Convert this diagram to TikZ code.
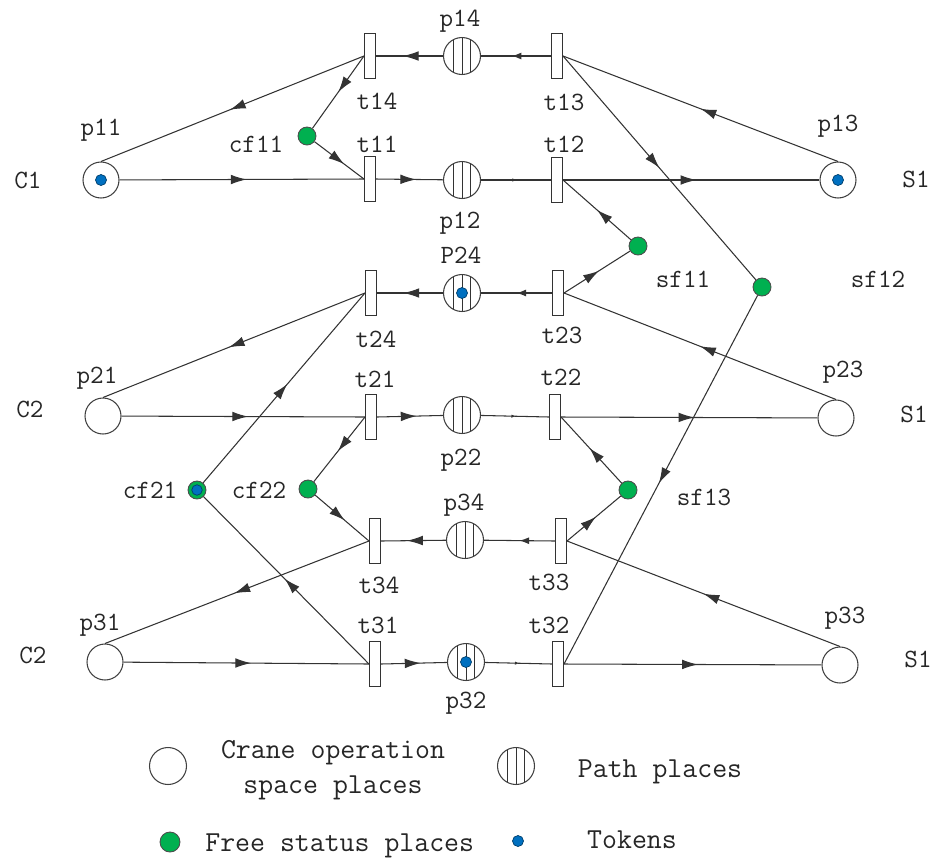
\documentclass[tikz,border=0pt]{standalone}
\usepackage{fontspec}
\usepackage{tikz}
\usetikzlibrary{arrows.meta,decorations.markings}
\definecolor{freegreen}{HTML}{00B050}
\definecolor{tokenblue}{HTML}{0070C0}

\tikzset{
  place/.style={circle, draw=black!75, line width=0.6pt, fill=white, minimum size=0.72cm, inner sep=0pt},
  pathplace/.style={place, minimum size=0.74cm,
    path picture={\foreach \dx in {-0.17,0,0.17}
      \draw[black!80, line width=0.55pt] ([xshift=\dx cm]path picture bounding box.north) -- ([xshift=\dx cm]path picture bounding box.south);}},
  trans/.style={rectangle, draw=black!80, line width=0.6pt, fill=white, minimum width=0.22cm, minimum height=0.9cm, inner sep=0pt},
  free/.style={circle, draw=black!70, line width=0.5pt, fill=freegreen, minimum size=0.36cm, inner sep=0pt},
  token/.style={circle, draw=tokenblue!55!black, line width=0.4pt, fill=tokenblue, minimum size=0.22cm, inner sep=0pt},
  lbl/.style={font=\fontsize{15pt}{18pt}\selectfont\ttfamily, text=black!85, inner sep=0pt, anchor=base},
  leg/.style={font=\fontsize{16.5pt}{20pt}\selectfont\ttfamily, text=black!85, inner sep=0pt, anchor=base},
  flow/.style={draw=black!80, line width=0.6pt},
  marrow/.style={postaction={decorate, decoration={markings, mark=at position #1 with {\arrow{Latex[length=9pt,width=5.5pt]}}}}},
  marrow/.default=0.52,
  sarrow/.style={postaction={decorate, decoration={markings, mark=at position #1 with {\arrow{Latex[length=5.5pt,width=4pt]}}}}},
  sarrow/.default=0.5,
  tarrow/.style={postaction={decorate, decoration={markings, mark=at position #1 with {\arrow{Latex[length=2pt,width=2pt]}}}}},
  tarrow/.default=0.5,
}

\begin{document}
\begin{tikzpicture}[x=0.02cm, y=-0.02cm]
    \useasboundingbox (0,0) rectangle (937,860);

    % Lugares do guindaste
    \node[place] (p11) at (101,180) {};
    \node[place] (p13) at (838,180) {};
    \node[place] (p21) at (103,416) {};
    \node[place] (p23) at (836,418) {};
    \node[place] (p31) at (105,662) {};
    \node[place] (p33) at (840,665) {};

    % Lugares de caminho
    \node[pathplace] (p14) at (462,56) {};
    \node[pathplace] (p12) at (462,180) {};
    \node[pathplace] (p24) at (462,293) {};
    \node[pathplace] (p22) at (462,415) {};
    \node[pathplace] (p34) at (465,540) {};
    \node[pathplace] (p32) at (466,662) {};

    % Transicoes
    \node[trans] (t14) at (370,56) {};
    \node[trans] (t11) at (370,179) {};
    \node[trans] (t13) at (557,56) {};
    \node[trans] (t12) at (557,180) {};
    \node[trans] (t24) at (371,293) {};
    \node[trans] (t23) at (558,293) {};
    \node[trans] (t21) at (371,417) {};
    \node[trans] (t22) at (555,417) {};
    \node[trans] (t34) at (375,541) {};
    \node[trans] (t33) at (561,541) {};
    \node[trans] (t31) at (375,664) {};
    \node[trans] (t32) at (558,664) {};

    % Lugares de estado livre
    \node[free] (cf11) at (307,136) {};
    \node[free] (sf11) at (638,246) {};
    \node[free] (sf12) at (762,287) {};
    \node[free] (cf21) at (197,490) {};
    \node[free] (cf22) at (308,489) {};
    \node[free] (sf13) at (628,490) {};

    % Fichas
    \node[token] (k11) at (p11) {};
    \node[token] (k13) at (p13) {};
    \node[token] (k24) at (p24) {};
    \node[token] (k32) at (p32) {};
    \node[token, minimum size=0.21cm] (kf21) at (cf21) {};

    % Arcos do primeiro guindaste
    \draw[flow, marrow] (p11) -- (t11.west);
    \draw[flow, marrow=0.6] (t11.east) -- (p12);
    \draw[flow, tarrow] (p12) -- (t12.west);
    \draw[flow, marrow] (t12.east) -- (p13);
    \draw[flow, marrow=0.5] (p13.north) -- (t13.east);
    \draw[flow, sarrow=0.56] (t13.west) -- (p14);
    \draw[flow, marrow=0.6] (p14) -- (t14.east);
    \draw[flow, marrow=0.51] (t14.west) -- (p11.north);
    \draw[flow, marrow=0.5] (t14.west) -- (cf11);
    \draw[flow, marrow=0.6] (cf11) -- (t11.west);
    \draw[flow, marrow=0.5] (sf11) -- (t12.east);
    \draw[flow, marrow=0.53] (t23.east) -- (sf11);
    \draw[flow, marrow=0.5] (t13.east) -- (sf12);
    \draw[flow, marrow=0.51] (sf12) -- (t32.east);

    % Arcos do segundo guindaste
    \draw[flow, marrow] (p21) -- (t21.west);
    \draw[flow, marrow=0.6] (t21.east) -- (p22);
    \draw[flow, tarrow] (p22) -- (t22.west);
    \draw[flow, marrow] (t22.east) -- (p23);
    \draw[flow, marrow=0.5] (p23.north) -- (t23.east);
    \draw[flow, sarrow] (t23.west) -- (p24);
    \draw[flow, marrow=0.6] (p24) -- (t24.east);
    \draw[flow, marrow=0.52] (t24.west) -- (p21.north);
    \draw[flow, marrow=0.53] (t21.west) -- (cf22);
    \draw[flow, marrow=0.55] (cf22) -- (t34.west);
    \draw[flow, marrow=0.53] (sf13) -- (t22.east);
    \draw[flow, marrow=0.54] (t33.east) -- (sf13);
    \draw[flow, marrow=0.52] (cf21) -- (t24.west);
    \draw[flow, marrow=0.51] (t31.west) -- (cf21);

    % Arcos do terceiro guindaste
    \draw[flow, marrow] (p31) -- (t31.west);
    \draw[flow, marrow=0.6] (t31.east) -- (p32);
    \draw[flow, tarrow] (p32) -- (t32.west);
    \draw[flow, marrow] (t32.east) -- (p33);
    \draw[flow, marrow=0.5] (p33.north) -- (t33.east);
    \draw[flow, sarrow] (t33.west) -- (p34);
    \draw[flow, marrow=0.6] (p34) -- (t34.east);
    \draw[flow, marrow=0.51] (t34.west) -- (p31.north);

    % Rotulos
    \node[lbl] (lc1) at (28,188) {C1};
    \node[lbl] (lc2) at (30,417) {C2};
    \node[lbl] (lc3) at (33,663) {C2};
    \node[lbl] (ls1) at (916,187) {S1};
    \node[lbl] (ls2) at (914,422) {S1};
    \node[lbl] (ls3) at (918,667) {S1};
    \node[lbl] (lp11) at (101,135) {p11};
    \node[lbl] (lp12) at (460,228) {p12};
    \node[lbl] (lp13) at (838,131) {p13};
    \node[lbl] (lp14) at (460,26) {p14};
    \node[lbl] (lt11) at (377,152) {t11};
    \node[lbl] (lt12) at (564,152) {t12};
    \node[lbl] (lt13) at (564,110) {t13};
    \node[lbl] (lt14) at (377,109) {t14};
    \node[lbl] (lcf11) at (256,152) {cf11};
    \node[lbl] (lsf11) at (683,287) {sf11};
    \node[lbl] (lsf12) at (878,287) {sf12};
    \node[lbl] (lp24) at (461,263) {P24};
    \node[lbl] (lt24) at (376,347) {t24};
    \node[lbl] (lt23) at (562,343) {t23};
    \node[lbl] (lp21) at (97,383) {p21};
    \node[lbl] (lt21) at (375,387) {t21};
    \node[lbl] (lp23) at (843,377) {p23};
    \node[lbl] (lt22) at (561,385) {t22};
    \node[lbl] (lp22) at (461,465) {p22};
    \node[lbl] (lcf21) at (150,498) {cf21};
    \node[lbl] (lcf22) at (259,498) {cf22};
    \node[lbl] (lsf13) at (704,505) {sf13};
    \node[lbl] (lp34) at (464,510) {p34};
    \node[lbl] (lt34) at (379,593) {t34};
    \node[lbl] (lt33) at (549,590) {t33};
    \node[lbl] (lt31) at (378,633) {t31};
    \node[lbl] (lt32) at (549,633) {t32};
    \node[lbl] (lp31) at (100,630) {p31};
    \node[lbl] (lp33) at (845,623) {p33};
    \node[lbl] (lp32) at (466,708) {p32};

    % Legenda
    \node[place, minimum size=0.74cm] (legc) at (168,766) {};
    \node[leg] (legc1) at (333,758) {Crane operation};
    \node[leg] (legc2) at (333,793) {space places};
    \node[pathplace] (legp) at (516,766) {};
    \node[leg] (legpt) at (660,777) {Path places};
    \node[free, minimum size=0.4cm] (legf) at (170,842) {};
    \node[leg, anchor=base west] (legft) at (205,851) {Free status places};
    \node[token] (legk) at (518,841) {};
    \node[leg] (legkt) at (632,848) {Tokens};
\end{tikzpicture}
\end{document}
